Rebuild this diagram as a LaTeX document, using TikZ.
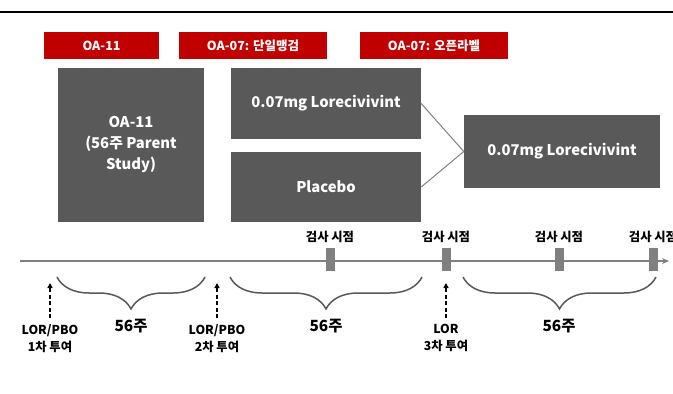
\documentclass[tikz,border=0pt]{standalone}
\usepackage{fontspec}
\setmainfont{Noto Sans CJK KR}
\usetikzlibrary{decorations.pathreplacing,arrows.meta}
\definecolor{hdrred}{HTML}{C00000}
\definecolor{boxgray}{HTML}{595959}
\definecolor{linegray}{HTML}{808080}
\begin{document}
\begin{tikzpicture}[x=1pt,y=-1pt,
  hdr/.style={fill=hdrred,text=white,font=\bfseries\fontsize{12.5}{14}\selectfont,inner sep=0pt},
  gbox/.style={fill=boxgray,text=white,font=\bfseries\fontsize{14.8}{21}\selectfont,inner sep=0pt,align=center},
  tickbox/.style={fill=linegray,draw=none},
  lbl/.style={font=\bfseries\fontsize{12.3}{17}\selectfont,align=center,inner sep=0pt},
  wk/.style={font=\bfseries\fontsize{15.4}{18}\selectfont,inner sep=0pt},
  brc/.style={draw=boxgray,line width=1.5pt,decorate,decoration={brace,mirror,amplitude=32pt,aspect=0.5}},
  darr/.style={draw=black,dash pattern=on 4pt off 2.5pt,line width=1.5pt,-{Triangle[length=5pt,width=5pt]}}]
\useasboundingbox (0,0) rectangle (673,394);
% top rule
\draw[line width=2pt] (0,12) -- (673,12);
% headers
\node[hdr,minimum width=115pt,minimum height=27pt] (h1) at (101.5,45.5) {OA-11};
\node[hdr,minimum width=148pt,minimum height=27pt] (h2) at (253,45.5) {OA-07: 단일맹검};
\node[hdr,minimum width=148pt,minimum height=27pt] (h3) at (434,45.5) {OA-07: 오픈라벨};
% study boxes
\node[gbox,minimum width=146pt,minimum height=154pt] (b1) at (131,145) {OA-11\\(56주 Parent\\Study)};
\node[gbox,minimum width=190pt,minimum height=71pt] (b2) at (326,103.5) {0.07mg Lorecivivint};
\node[gbox,minimum width=190pt,minimum height=70pt] (b3) at (326,187) {Placebo};
\node[gbox,minimum width=196pt,minimum height=73pt] (b4) at (562,151.5) {0.07mg Lorecivivint};
\draw[linegray,line width=1pt] (b2.east) -- (b4.west);
\draw[linegray,line width=1pt] (b3.east) -- (b4.west);
% timeline
\coordinate (t0) at (20,261);
\coordinate (t1) at (669,261);
\draw[linegray,line width=1.6pt,-{Stealth[length=7pt,width=6pt]}] (t0) -- (t1);
\foreach \n/\x in {m1/330,m2/446,m3/559,m4/653}{
  \node[tickbox,minimum width=9pt,minimum height=23pt,inner sep=0pt] (\n) at (\x,259.5) {};
  \node[lbl,anchor=base] at (\x,241) {검사 시점};
}
% braces
\coordinate (a1) at (57,277); \coordinate (a2) at (205,277);
\coordinate (a3) at (230,277); \coordinate (a4) at (422,277);
\coordinate (a5) at (463,277); \coordinate (a6) at (656,277);
\draw[brc] (a1) -- (a2);
\draw[brc] (a3) -- (a4);
\draw[brc] (a5) -- (a6);
\node[wk] (w1) at (131,326) {56주};
\node[wk] (w2) at (326,326) {56주};
\node[wk] (w3) at (559,326) {56주};
% dosing arrows
\foreach \n/\x in {d1/50,d2/217,d3/446}{
  \coordinate (\n s) at (\x,318);
  \coordinate (\n e) at (\x,283);
  \draw[darr] (\n s) -- (\n e);
}
\node[lbl,anchor=north] (l1) at (50,324) {LOR/PBO\\1차 투여};
\node[lbl,anchor=north] (l2) at (217,324) {LOR/PBO\\2차 투여};
\node[lbl,anchor=north] (l3) at (446,324) {LOR\\3차 투여};
\end{tikzpicture}
\end{document}
